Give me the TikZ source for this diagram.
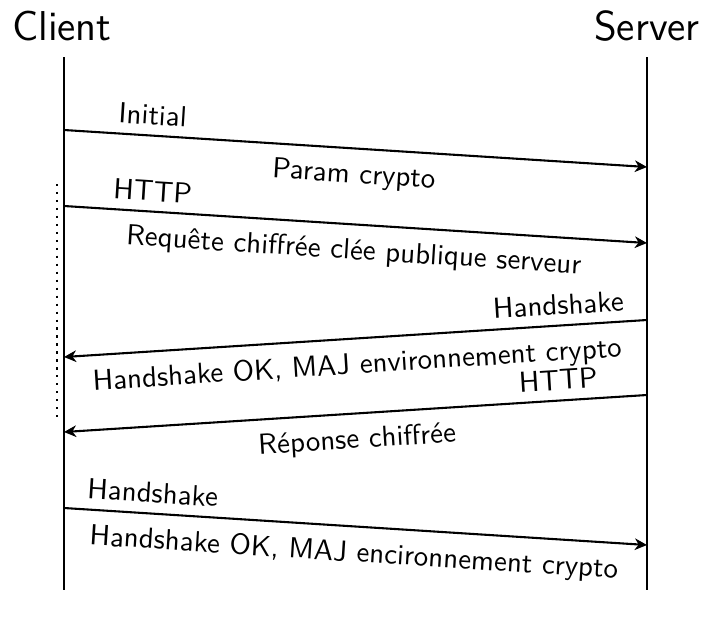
\documentclass[tikz,border=0pt]{standalone}
\usetikzlibrary{arrows.meta}
\begin{document}
\begin{tikzpicture}[x=0.345pt, y=-0.345pt, font=\sffamily,
  line width=0.72pt,
  actor/.style={anchor=base, font=\sffamily\Large, inner sep=0pt},
  lifeline/.style={line width=0.72pt},
  msg/.style={-{Stealth[length=4.2pt, width=4pt, inset=1.3pt]}, line width=0.72pt},
  above lab/.style={above, sloped, pos=0.15, inner sep=3.3pt},
  below lab/.style={below, sloped, pos=0.5, inner sep=4.6pt},
  session/.style={dotted, line width=0.75pt}]
  \useasboundingbox (0,0) rectangle (705,619);

  % actors
  \node[actor] (client) at (62,40) {Client};
  \node[actor] (server) at (647,40) {Server};

  % lifelines
  \coordinate (ctop) at (64,57);
  \coordinate (cbot) at (64,590);
  \coordinate (stop) at (647,57);
  \coordinate (sbot) at (647,590);
  \draw[lifeline] (ctop) -- (cbot);
  \draw[lifeline] (stop) -- (sbot);

  % message end points
  \coordinate (c1) at (64,130);  \coordinate (s1) at (647,167);
  \coordinate (c2) at (64,206);  \coordinate (s2) at (647,243);
  \coordinate (s3) at (647,320); \coordinate (c3) at (64,357);
  \coordinate (s4) at (647,395); \coordinate (c4) at (64,432);
  \coordinate (c5) at (64,508);  \coordinate (s5) at (647,545);

  % messages
  \draw[msg] (c1) -- node[above lab] (m1a) {Initial}
                     node[below lab] (m1b) {Param crypto} (s1);
  \draw[msg] (c2) -- node[above lab] (m2a) {HTTP}
                     node[below lab] (m2b) {Requête chiffrée clée publique serveur} (s2);
  \draw[msg] (s3) -- node[above lab] (m3a) {Handshake}
                     node[below lab] (m3b) {Handshake OK, MAJ environnement crypto} (c3);
  \draw[msg] (s4) -- node[above lab] (m4a) {HTTP}
                     node[below lab] (m4b) {Réponse chiffrée} (c4);
  \draw[msg] (c5) -- node[above lab] (m5a) {Handshake}
                     node[below lab] (m5b) {Handshake OK, MAJ encironnement crypto} (s5);

  % encrypted session span
  \coordinate (dtop) at (57,184);
  \coordinate (dbot) at (57,420);
  \draw[session] (dtop) -- (dbot);
\end{tikzpicture}
\end{document}
